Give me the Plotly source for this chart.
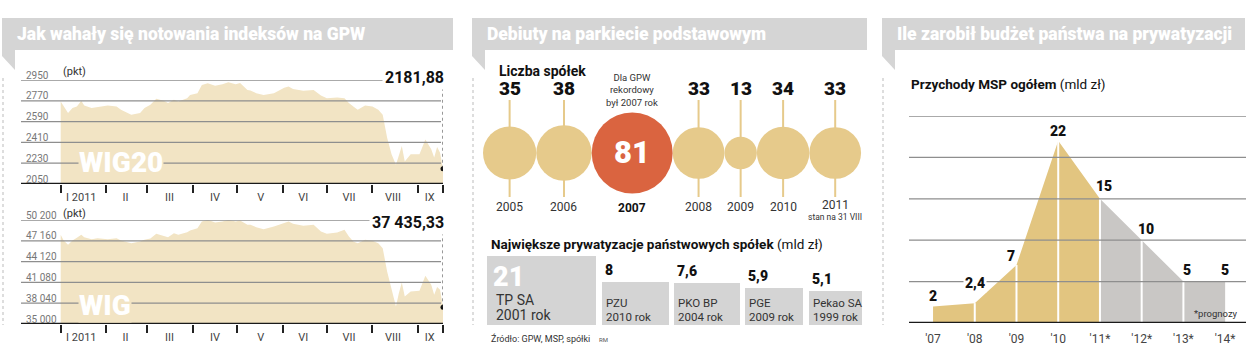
import numpy as np
import plotly.graph_objects as go

W, H = 1250, 347
def px(x): return x / W
def py(y): return 1 - y / H

# ---------------- DATA ----------------
dates = ["2011-01-01","2011-01-03","2011-01-06","2011-01-09","2011-01-12","2011-01-15","2011-01-17","2011-01-22","2011-01-26",
         "2011-02-02","2011-02-08","2011-02-11","2011-02-18","2011-02-24","2011-02-27",
         "2011-03-03","2011-03-07","2011-03-12","2011-03-15","2011-03-19","2011-03-22","2011-03-28","2011-03-30",
         "2011-04-04","2011-04-07","2011-04-11","2011-04-16","2011-04-21","2011-04-25","2011-04-30",
         "2011-05-03","2011-05-08","2011-05-10","2011-05-14","2011-05-19","2011-05-26",
         "2011-06-02","2011-06-05","2011-06-08","2011-06-15","2011-06-22","2011-06-27",
         "2011-07-01","2011-07-08","2011-07-13","2011-07-16","2011-07-19","2011-07-22","2011-07-27",
         "2011-08-01","2011-08-05","2011-08-08","2011-08-11","2011-08-14","2011-08-17","2011-08-19","2011-08-21","2011-08-23","2011-08-27",
         "2011-09-02","2011-09-06","2011-09-10","2011-09-12","2011-09-14","2011-09-16","2011-09-18"]
wig20 = [2764, 2721, 2664, 2707, 2721, 2770, 2730, 2707, 2716,
         2730, 2721, 2693, 2650, 2664, 2707,
         2736, 2787, 2770, 2750, 2779, 2764, 2793, 2821,
         2836, 2907, 2921, 2901, 2913, 2930, 2913,
         2924, 2864, 2860, 2836, 2821, 2836,
         2884, 2893, 2873, 2856, 2864, 2816,
         2793, 2799, 2793, 2750, 2721, 2693, 2730,
         2721, 2693, 2650, 2450, 2307, 2216, 2293, 2379, 2244, 2307,
         2307, 2436, 2350, 2279, 2370, 2321, 2181.88]
wig = [48037, 47209, 46576, 47209, 47600, 48037, 47696, 47400, 47550,
       47400, 47550, 47209, 46820, 47063, 47306,
       47500, 48183, 47890, 47696, 48280, 48037, 48400, 48670,
       49010, 49985, 50228, 49839, 49985, 50228, 49985,
       50130, 49498, 49498, 49157, 48865, 49254,
       49839, 49985, 49644, 49352, 49498, 48524,
       48183, 48378, 48767, 47793, 47063, 46820, 47306,
       47160, 46820, 46089, 42680, 40000, 37566, 39514, 41072, 39027, 39757,
       39854, 42046, 40731, 39270, 40390, 40000, 37435.33]
wig20_last_label = "2181,88"
wig_last_label = "37 435,33"
month_labels = ["I 2011", "II", "III", "IV", "V", "VI", "VII", "VIII", "IX"]
month_mid = ["2011-01-15","2011-02-14","2011-03-16","2011-04-16","2011-05-17","2011-06-15","2011-07-16","2011-08-15","2011-09-09"]
month_starts = ["2011-01-01","2011-02-01","2011-03-01","2011-04-01","2011-05-01","2011-06-01","2011-07-01","2011-08-01","2011-09-01"]
wig20_ticks = [2050, 2230, 2410, 2590, 2770, 2950]
wig_ticks = [35000, 38040, 41080, 44120, 47160, 50200]

deb_years = ["2005", "2006", "2007", "2008", "2009", "2010", "2011"]
deb_counts = [35, 38, 81, 33, 13, 34, 33]

priv_names = ["TP SA", "PZU", "PKO BP", "PGE", "Pekao SA"]
priv_years = ["2001 rok", "2010 rok", "2004 rok", "2009 rok", "1999 rok"]
priv_values = [21, 8, 7.6, 5.9, 5.1]
priv_labels = ["21", "8", "7,6", "5,9", "5,1"]

msp_years = ["'07", "'08", "'09", "'10", "'11*", "'12*", "'13*", "'14*"]
msp_values = [2, 2.4, 7, 22, 15, 10, 5, 5]
msp_labels = ["2", "2,4", "7", "22", "15", "10", "5", "5"]
msp_ticks = [5, 10, 15, 20, 25]
forecast_start = 4

# ---------------- STYLE ----------------
FONT = "Roboto, 'Open Sans', Arial, sans-serif"
HEAD = "#D5D5D5"
AREA1 = "#F2E4C4"
TAN = "#E6CA8B"
RED = "#DA6440"
BOXG = "#D4D4D4"
TAN3 = "#E2C580"
GRAY3 = "#C9C7C5"
GRID = "#8E8E8E"

fig = go.Figure()
shapes, anns = [], []

def ann(text, x, y, size=12, color="#222", weight=400, xanchor="center", yanchor="middle",
        xref="paper", yref="paper", **kw):
    anns.append(dict(text=text, x=x, y=y, xref=xref, yref=yref, xanchor=xanchor, yanchor=yanchor,
                     showarrow=False, font=dict(family=FONT, size=size, color=color, weight=weight), **kw))

# headers
def header(x0, x1, title):
    shapes.append(dict(type="rect", xref="paper", yref="paper", x0=px(x0), x1=px(x1), y0=py(50), y1=py(18),
                       fillcolor=HEAD, line=dict(width=0), layer="below"))
    path = "M {} {} L {} {} L {} {} L {} {} Z".format(px(x0), py(49.5), px(x0 + 13), py(49.5),
                                                      px(x0 + 13), py(70), px(x0), py(56))
    shapes.append(dict(type="path", xref="paper", yref="paper", path=path, fillcolor=HEAD,
                       line=dict(width=0), layer="below"))
    ann(title, px(x0 + 13), py(34), size=17.5, color="white", weight=900, xanchor="left")
    shapes.append(dict(type="line", xref="paper", yref="paper", x0=px(x0 + 1), x1=px(x0 + 1),
                       y0=py(78), y1=py(325), line=dict(color="#BBBBBB", width=1, dash="dot")))

header(2, 453, "Jak wahały się notowania indeksów na GPW")
header(472, 867, "Debiuty na parkiecie podstawowym")
header(882, 1245, "Ile zarobił budżet państwa na prywatyzacji")

# ---------------- PANEL 1: index charts ----------------
def index_chart(xa, ya, vals, ticks, last_label, fmt, name, label_y, name_y, pkt_y):
    fig.add_trace(go.Scatter(x=dates, y=vals, mode="lines", fill="tozeroy", fillcolor=AREA1,
                             line=dict(width=0, color=AREA1), xaxis=xa, yaxis=ya, hoverinfo="skip"))
    fig.add_trace(go.Scatter(x=[dates[-1]], y=[vals[-1]], mode="markers",
                             marker=dict(size=5, color="#111"), xaxis=xa, yaxis=ya))
    xdom = xa + " domain"
    for v in ticks[1:]:
        shapes.append(dict(type="line", xref=xdom, yref=ya, x0=0, x1=(441 - 21) / 422, y0=v, y1=v,
                           line=dict(color=GRID, width=1.3), layer="above"))
    shapes.append(dict(type="line", xref=xdom, yref=ya, x0=0, x1=1, y0=ticks[0], y1=ticks[0],
                       line=dict(color="#1A1A1A", width=2.5), layer="above"))
    for v in ticks:
        ann(fmt(v), px(24), v, size=10, color="#777", xanchor="left", yref=ya, yshift=5)
    shapes.append(dict(type="line", xref=xa, yref=ya, x0=dates[-1], x1=dates[-1], y0=vals[-1], y1=ticks[-1],
                       line=dict(color="#333", width=1, dash="dot"), layer="above"))
    ann(last_label, px(447), py(label_y), size=16, color="#111", weight=700, xanchor="right",
        bgcolor="white", borderpad=2)
    ann(name, px(78), py(name_y), size=28, color="white", weight=900, xanchor="left",
        bgcolor=AREA1, borderpad=0)
    ann("(pkt)", px(61), py(pkt_y), size=11, color="#333", xanchor="left")

index_chart("x", "y", wig20, wig20_ticks, wig20_last_label, lambda v: str(v), "WIG20", 77, 162, 72)
index_chart("x2", "y2", wig, wig_ticks, wig_last_label, lambda v: f"{v:,}".replace(",", " "), "WIG", 223, 305, 213)

xcommon = dict(type="date", range=["2010-12-05", "2011-09-18"], domain=[px(21), px(443)],
               tickmode="array", tickvals=month_mid, ticktext=month_labels, ticks="",
               tickfont=dict(family=FONT, size=11, color="#444"), showgrid=False, zeroline=False,
               showline=False, ticklabelstandoff=5,
               minor=dict(tickmode="array", tickvals=month_starts + [dates[-1]], ticks="outside",
                          ticklen=8, tickwidth=1.5, tickcolor="#222", showgrid=False))

# ---------------- PANEL 2: circles (area ~ count) ----------------
scale = 81.0  # diameter in px of the largest circle
diam = np.sqrt(np.array(deb_counts) / max(deb_counts)) * scale
centers = 483 + np.cumsum(diam) - diam / 2
lx, ly = [], []
for i, c in enumerate(centers):
    if deb_counts[i] != max(deb_counts):
        lx += [c, c, None]
        ly += [1, -0.83, None]
fig.add_trace(go.Scatter(x=lx, y=ly, mode="lines", line=dict(color=TAN, width=2),
                         xaxis="x3", yaxis="y3", hoverinfo="skip"))
fig.add_trace(go.Scatter(x=centers, y=[0] * len(centers), mode="markers",
                         marker=dict(size=diam, sizemode="diameter",
                                     color=[RED if v == max(deb_counts) else TAN for v in deb_counts],
                                     line=dict(width=0), opacity=1),
                         xaxis="x3", yaxis="y3", hoverinfo="skip"))
ann("Liczba spółek", px(497), py(71), size=14, color="#111", weight=700, xanchor="left")
for i, c in enumerate(centers):
    if deb_counts[i] == max(deb_counts):
        ann(str(deb_counts[i]), c, 0, size=31, color="white", weight=900, xref="x3", yref="y3", yshift=1)
        ann("Dla GPW<br>rekordowy<br>był 2007 rok", c, py(90), size=9.5, color="#333", xref="x3")
        ann(deb_years[i], c, py(208), size=12, color="#111", weight=700, xref="x3")
    else:
        ann(str(deb_counts[i]), c, py(88), size=19, color="#111", weight=900, xref="x3")
        if i == len(centers) - 1:
            ann(deb_years[i], c, py(205), size=12, color="#333", xref="x3")
            ann("stan na 31 VIII", c, py(217), size=8.5, color="#333", xref="x3")
        else:
            ann(deb_years[i], c, py(207), size=12, color="#333", xref="x3")

# ---------------- PANEL 2: privatisation boxes (area ~ value) ----------------
k = 15.06  # px per unit
ratio = 1.58
hts = np.sqrt(np.array(priv_values))
wds = hts * ratio
gap = 5.5 / k
lefts = np.concatenate([[0], np.cumsum(wds + gap)[:-1]])
fig.add_trace(go.Bar(x=lefts + wds / 2, y=hts, width=wds, base=0, marker=dict(color=BOXG, line=dict(width=0)),
                     xaxis="x4", yaxis="y4", hoverinfo="skip"))
ann("<b>Największe prywatyzacje państwowych spółek</b> (mld zł)", px(489), py(244), size=13.5,
    color="#111", xanchor="left")
for i in range(len(priv_values)):
    if i == 0:
        ann(priv_labels[i], lefts[i], hts[i], size=27, color="white", weight=900, xanchor="left",
            yanchor="top", xref="x4", yref="y4", xshift=4, yshift=-3)
        ann(priv_names[i], lefts[i], 0, size=14, color="#333", xanchor="left",
            xref="x4", yref="y4", xshift=7, yshift=25)
        ann(priv_years[i], lefts[i], 0, size=14, color="#333", xanchor="left",
            xref="x4", yref="y4", xshift=7, yshift=10)
    else:
        ann(priv_labels[i], lefts[i], hts[i], size=14, color="#111", weight=900, xanchor="left",
            yanchor="bottom", xref="x4", yref="y4", xshift=1, yshift=2)
        ann(priv_names[i], lefts[i], 0, size=11.5, color="#333", xanchor="left",
            xref="x4", yref="y4", xshift=2, yshift=22)
        ann(priv_years[i], lefts[i], 0, size=11.5, color="#333", xanchor="left",
            xref="x4", yref="y4", xshift=2, yshift=8)
ann("Źródło: GPW, MSP, spółki", px(489), py(338), size=9, color="#333", xanchor="left")
ann("RM", px(597), py(339), size=6, color="#555", xanchor="left")

# ---------------- PANEL 3: MSP revenue ----------------
xi = list(range(len(msp_values)))
fig.add_trace(go.Scatter(x=xi[:forecast_start + 1], y=msp_values[:forecast_start + 1], mode="lines",
                         fill="tozeroy", fillcolor=TAN3, line=dict(width=0, color=TAN3),
                         xaxis="x5", yaxis="y5", hoverinfo="skip"))
fig.add_trace(go.Scatter(x=xi[forecast_start:], y=msp_values[forecast_start:], mode="lines",
                         fill="tozeroy", fillcolor=GRAY3, line=dict(width=0, color=GRAY3),
                         xaxis="x5", yaxis="y5", hoverinfo="skip"))
sx, sy = [], []
for i in range(1, len(msp_values) - 1):
    sx += [xi[i], xi[i], None]
    sy += [0, msp_values[i], None]
fig.add_trace(go.Scatter(x=sx, y=sy, mode="lines", line=dict(color="white", width=2),
                         xaxis="x5", yaxis="y5", hoverinfo="skip"))
for v in msp_ticks:
    shapes.append(dict(type="line", xref="x5 domain", yref="y5", x0=0, x1=1, y0=v, y1=v,
                       line=dict(color=GRID, width=1.3), layer="above"))
shapes.append(dict(type="line", xref="x5 domain", yref="y5", x0=0, x1=1, y0=0, y1=0,
                   line=dict(color="#1A1A1A", width=2.5), layer="above"))
dxs = [0, 0, -5, 0, 4, 4, 4, 0]
dys = [10, 20, 9, 10, 13, 11, 12, 12]
for i, v in enumerate(msp_values):
    ann(msp_labels[i], xi[i], v, size=14, color="#111", weight=900, xref="x5", yref="y5",
        xshift=dxs[i], yshift=dys[i], bgcolor="white" if msp_labels[i] == "2,4" else None, borderpad=1)
ann("Przychody MSP ogółem <span style='font-weight:400'>(mld zł)</span>", px(909), py(84), size=13.5,
    color="#111", weight=700, xanchor="left")
ann("*prognozy", px(1240), py(313), size=9.5, color="#333", xanchor="right")

# ---------------- LAYOUT ----------------
hidden = dict(visible=False, showgrid=False, zeroline=False)
fig.update_layout(
    width=W, height=H, autosize=False, margin=dict(l=0, r=0, t=0, b=0),
    paper_bgcolor="white", plot_bgcolor="white", showlegend=False,
    font=dict(family=FONT),
    xaxis=dict(**xcommon, anchor="y"),
    yaxis=dict(**hidden, domain=[py(184), py(80)], range=[2050, 2950], anchor="x"),
    xaxis2=dict(**xcommon, anchor="y2"),
    yaxis2=dict(**hidden, domain=[py(324), py(220)], range=[35000, 50200], anchor="x2"),
    xaxis3=dict(**hidden, domain=[px(472), px(868)], range=[472, 868], anchor="y3"),
    yaxis3=dict(**hidden, domain=[py(206), py(100)], range=[-1, 1], anchor="x3"),
    xaxis4=dict(**hidden, domain=[px(487), px(862)], range=[0, 375 / k], anchor="y4"),
    yaxis4=dict(**hidden, domain=[py(325), py(250)], range=[0, 75 / k], anchor="x4"),
    xaxis5=dict(domain=[px(909), px(1246)], range=[-0.576, 7.5], anchor="y5", showgrid=False,
                zeroline=False, showline=False, tickmode="array", tickvals=xi, ticktext=msp_years,
                ticks="", tickfont=dict(family=FONT, size=12, color="#444"), ticklabelstandoff=7),
    yaxis5=dict(**hidden, domain=[py(323), py(116)], range=[0, 25], anchor="x5"),
    shapes=shapes, annotations=anns, bargap=0,
)
fig.write_html("out.html")
